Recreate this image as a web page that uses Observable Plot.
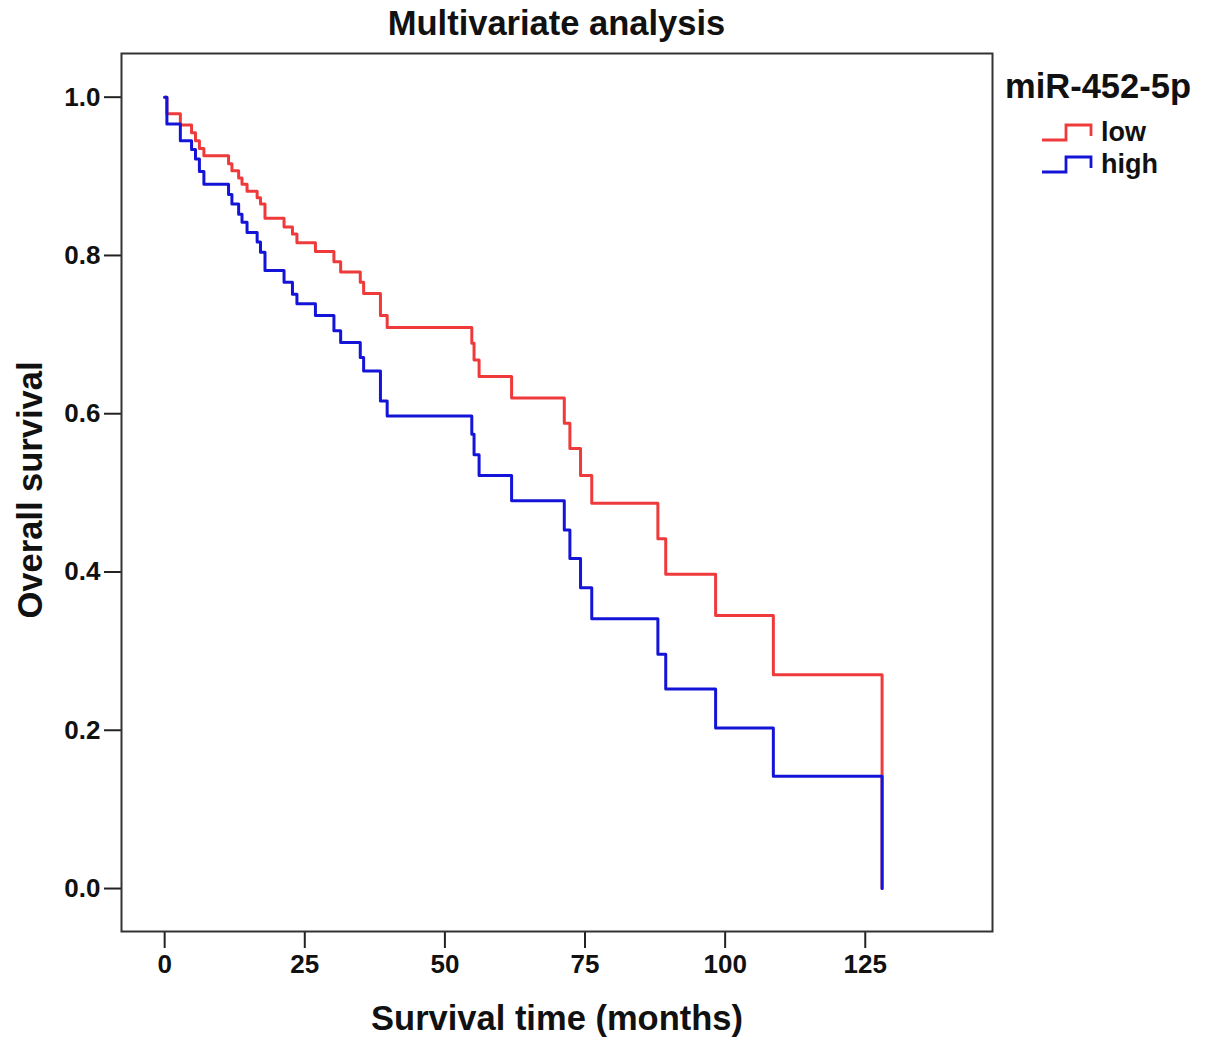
<!DOCTYPE html>
<html>
<head>
<meta charset="utf-8">
<script src="https://cdn.jsdelivr.net/npm/d3@7"></script>
<script src="https://cdn.jsdelivr.net/npm/@observablehq/plot@0.6"></script>
<style>
  body { margin: 0; background: #fff; font-family: "Liberation Sans", Arial, sans-serif; }
  #wrap { position: relative; width: 1205px; height: 1051px; }
  #title { position: absolute; left: 121px; width: 871px; top: 0; text-align: center;
           font-weight: bold; font-size: 34.5px; line-height: 46px; color: #111; }
  #chart { position: absolute; left: 0; top: 50px; }
  #ylabel { position: absolute; left: 30px; top: 490px; transform: translate(-50%, -50%) rotate(-90deg);
            white-space: nowrap; font-weight: bold; font-size: 34.5px; color: #111; }
  #legend { position: absolute; left: 1005px; top: 66px; color: #111; }
  #legend .head { font-weight: bold; font-size: 34.5px; line-height: 40px; margin-bottom: 10px; }
  #legend .item { display: flex; align-items: center; font-weight: bold; font-size: 27px; height: 32px; margin-left: 36px; }
  #legend svg { margin-right: 6px; }
</style>
</head>
<body>
<div id="wrap">
  <div id="title">Multivariate analysis</div>
  <div id="chart"></div>
  <div id="ylabel">Overall survival</div>
  <div id="legend"></div>
</div>
<script>
// event times (months), shared by both adjusted curves
const times = [0, 0.4, 2.8, 4.8, 5.5, 6.2, 7.0, 11.4, 12.0, 13.2, 13.8, 14.7, 16.5, 17.1, 17.9,
  21.3, 22.8, 23.6, 26.9, 30.2, 31.4, 34.9, 35.5, 38.5, 39.7, 54.8, 55.2, 56.1, 61.9,
  71.3, 72.3, 74.2, 76.2, 88.0, 89.4, 98.3, 108.6, 128.0];

// survival after each event, miR-452-5p low
const lowSurv = [1.0, 0.979, 0.965, 0.955, 0.945, 0.935, 0.926, 0.916, 0.907, 0.898, 0.890, 0.881, 0.873, 0.865, 0.847,
  0.836, 0.827, 0.816, 0.805, 0.792, 0.779, 0.766, 0.752, 0.724, 0.709, 0.689, 0.668, 0.647, 0.620,
  0.588, 0.556, 0.522, 0.487, 0.442, 0.397, 0.345, 0.270, 0.0];

// survival after each event, miR-452-5p high
const highSurv = [1.0, 0.966, 0.945, 0.934, 0.922, 0.906, 0.890, 0.877, 0.865, 0.852, 0.842, 0.829, 0.817, 0.804, 0.781,
  0.766, 0.751, 0.739, 0.724, 0.705, 0.690, 0.671, 0.654, 0.616, 0.597, 0.574, 0.548, 0.522, 0.490,
  0.453, 0.417, 0.380, 0.341, 0.296, 0.252, 0.203, 0.142, 0.0];

const groups = ["low", "high"];
const colors = ["#ee3a3a", "#1414d8"];
const xTicks = [0, 25, 50, 75, 100, 125];
const yTicks = [0, 0.2, 0.4, 0.6, 0.8, 1.0];

const rows = [];
times.forEach((t, i) => {
  rows.push({time: t, surv: lowSurv[i], group: "low"});
});
times.forEach((t, i) => {
  rows.push({time: t, surv: highSurv[i], group: "high"});
});

const chart = Plot.plot({
  width: 1205,
  height: 1001,
  marginLeft: 121,
  marginRight: 213,
  marginTop: 3,
  marginBottom: 120,
  style: {fontFamily: "Liberation Sans, Arial, sans-serif", background: "#fff"},
  x: {domain: [-7.7, 147.7]},
  y: {domain: [-0.0543, 1.0552]},
  color: {domain: groups, range: colors},
  marks: [
    Plot.line(rows, {
      x: "time", y: "surv", z: "group", stroke: "group",
      curve: "step-after", strokeWidth: 3
    }),
    Plot.axisX({ticks: xTicks, tickSize: 17, tickPadding: 6, label: null,
      fontSize: 26, fontWeight: "bold", stroke: "#222", strokeWidth: 2, fill: "#111"}),
    Plot.axisY({ticks: yTicks, tickFormat: d3.format(".1f"), tickSize: 17, tickPadding: 4, label: null,
      fontSize: 26, fontWeight: "bold", stroke: "#222", strokeWidth: 2, fill: "#111"}),
    Plot.text(["Survival time (months)"], {frameAnchor: "bottom", dy: 98, fontSize: 34.5,
      fontWeight: "bold", fill: "#111"}),
    Plot.frame({stroke: "#333", strokeWidth: 2})
  ]
});

document.getElementById("chart").append(chart);

// legend with step glyphs
const legend = d3.select("#legend");
legend.append("div").attr("class", "head").text("miR-452-5p");
groups.forEach((g, i) => {
  const item = legend.append("div").attr("class", "item");
  const s = item.append("svg").attr("width", 54).attr("height", 24);
  s.append("path")
    .attr("d", "M1,20 H25 V5 H50 V16")
    .attr("fill", "none")
    .attr("stroke", colors[i])
    .attr("stroke-width", 2.8);
  item.append("span").text(g);
});
</script>
</body>
</html>
